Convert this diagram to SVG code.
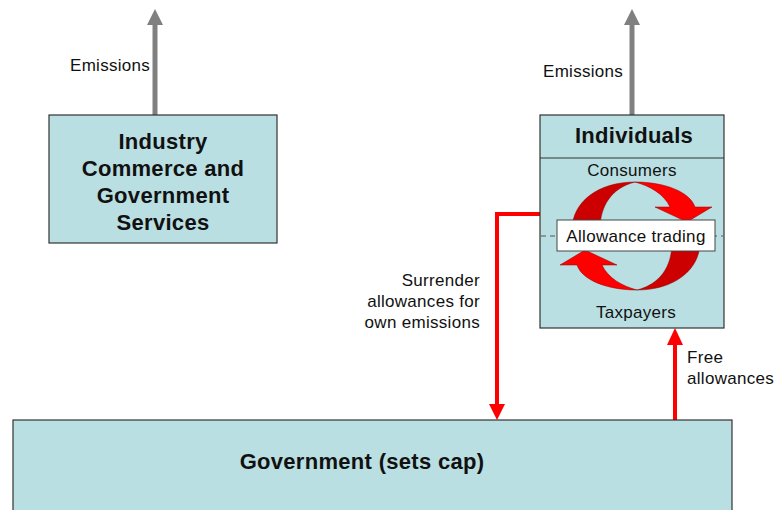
<svg xmlns="http://www.w3.org/2000/svg" width="774" height="510" viewBox="0 0 774 510">
<style>
.box{fill:#B9DFE2;stroke:#333;stroke-width:1.2}
.t{font-family:"Liberation Sans",Arial,sans-serif;fill:#111}
.b{font-weight:bold;font-size:22px;letter-spacing:0.3px;text-anchor:middle}
.n{font-size:17px;letter-spacing:0.3px}
.gray{stroke:#808080;stroke-width:5;fill:none}
.red{stroke:#FF0000;stroke-width:4;fill:none}
.dk{fill:#CC0000;stroke:#8B0000;stroke-width:0.5}
.br{fill:#FF0000;stroke:#8B0000;stroke-width:0.5}
</style>
<rect width="774" height="510" fill="#fff"/>
<g id="connectors">
<line class="gray" x1="155" y1="115" x2="155" y2="22"/>
<path d="M155,9 L163,25 L147,25 Z" fill="#808080"/>
<text class="t n" x="70" y="71">Emissions</text>
<line class="gray" x1="632" y1="115" x2="632" y2="22"/>
<path d="M632,9 L640,25 L624,25 Z" fill="#808080"/>
<text class="t n" x="543" y="77">Emissions</text>
<polyline class="red" points="540,214 497,214 497,406"/>
<path d="M497,420 L505,404 L489,404 Z" fill="#FF0000"/>
<text class="t n" text-anchor="end" x="480" y="286">Surrender</text>
<text class="t n" text-anchor="end" x="480" y="307">allowances for</text>
<text class="t n" text-anchor="end" x="480" y="328">own emissions</text>
<line class="red" x1="675" y1="420" x2="675" y2="343"/>
<path d="M675,328 L683,345 L667,345 Z" fill="#FF0000"/>
<text class="t n" x="687" y="363">Free</text>
<text class="t n" x="687" y="384">allowances</text>
</g>
<g id="industry">
<rect class="box" x="49" y="115" width="228" height="128"/>
<text class="t b" x="163" y="149">Industry</text>
<text class="t b" x="163" y="176">Commerce and</text>
<text class="t b" x="163" y="203">Government</text>
<text class="t b" x="163" y="230">Services</text>
</g>
<g id="individuals">
<rect class="box" x="540" y="115" width="184" height="213"/>
<line x1="540" y1="158" x2="724" y2="158" stroke="#333" stroke-width="1.2"/>
<text class="t b" x="634" y="143">Individuals</text>
<text class="t n" text-anchor="middle" x="632" y="176">Consumers</text>
<text class="t n" text-anchor="middle" x="636" y="318">Taxpayers</text>
<line x1="541" y1="236" x2="723" y2="236" stroke="#555" stroke-width="1" stroke-dasharray="5,4"/>
<g id="cycle">
<path class="dk" d="M572,230 C572,202 598,182 635,182 C612,188 600,205 600,230 Z"/>
<path class="br" d="M635,182 C665,182 690,192 695,207 L712,207 L687,222 L655,207 L670,207 C664,194 650,186 635,182 Z"/>
<g transform="rotate(180 636 236)">
<path class="dk" d="M572,230 C572,202 598,182 635,182 C612,188 600,205 600,230 Z"/>
<path class="br" d="M635,182 C665,182 690,192 695,207 L712,207 L687,222 L655,207 L670,207 C664,194 650,186 635,182 Z"/>
</g>
</g>
<rect x="557" y="220" width="158" height="31" fill="#fff" stroke="#444" stroke-width="1"/>
<text class="t n" text-anchor="middle" x="636" y="242">Allowance trading</text>
</g>
<g id="government">
<rect class="box" x="13" y="420" width="719" height="100"/>
<text class="t b" x="362" y="469">Government (sets cap)</text>
</g>
</svg>
